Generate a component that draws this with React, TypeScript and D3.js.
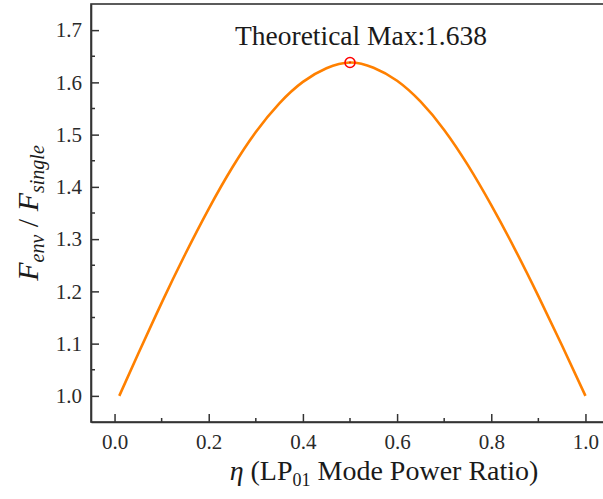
import React, { useEffect, useRef } from 'react'
import * as d3 from 'd3'

// eta (LP01 mode power ratio)
const eta = [0.01, 0.05, 0.1, 0.15, 0.2, 0.25, 0.3, 0.35, 0.4, 0.45, 0.5, 0.55, 0.6, 0.65, 0.7, 0.75, 0.8, 0.85, 0.9, 0.95, 1.0]
const ratio = [1.0, 1.08, 1.178, 1.271, 1.358, 1.437, 1.505, 1.56, 1.601, 1.627, 1.638, 1.628, 1.603, 1.563, 1.509, 1.442, 1.365, 1.281, 1.191, 1.097, 1.0]

const peakEta = 0.5
const peakValue = 1.638

const xTicks = [0.0, 0.2, 0.4, 0.6, 0.8, 1.0]
const yTicks = [1.0, 1.1, 1.2, 1.3, 1.4, 1.5, 1.6, 1.7]

const W = 603
const H = 499
const left = 91
const top = 4
const bottom = 422
const right = 609

const FONT = '"Liberation Serif", "Times New Roman", serif'

export default function App() {
  const svgRef = useRef<SVGSVGElement>(null)

  useEffect(() => {
    const svg = d3.select(svgRef.current)
    svg.selectAll('*').remove()

    const x = d3.scaleLinear().domain([-0.05, 1.05]).range([left, right])
    const y = d3.scaleLinear().domain([0.95, 1.75]).range([bottom, top])

    // frame
    svg.append('rect')
      .attr('x', left).attr('y', top)
      .attr('width', right - left).attr('height', bottom - top)
      .attr('fill', 'none').attr('stroke', '#333').attr('stroke-width', 1.6)

    // minor ticks
    const xMinor = d3.range(0.1, 1.0, 0.2)
    svg.append('g').selectAll('line').data(xMinor).join('line')
      .attr('x1', d => x(d)).attr('x2', d => x(d))
      .attr('y1', bottom).attr('y2', bottom - 4)
      .attr('stroke', '#333').attr('stroke-width', 1.5)
    const yMinor = d3.range(1.05, 1.75, 0.1)
    svg.append('g').selectAll('line').data(yMinor).join('line')
      .attr('x1', left).attr('x2', left + 4)
      .attr('y1', d => y(d)).attr('y2', d => y(d))
      .attr('stroke', '#333').attr('stroke-width', 1.5)

    const xAxis = d3.axisBottom(x).tickValues(xTicks).tickFormat(d3.format('.1f'))
      .tickSizeInner(-8).tickSizeOuter(0).tickPadding(12)
    const gx = svg.append('g').attr('transform', `translate(0,${bottom})`).call(xAxis)
    gx.select('.domain').attr('stroke', '#333').attr('stroke-width', 1.6)
    gx.selectAll('.tick line').attr('stroke', '#333').attr('stroke-width', 1.5)
    gx.selectAll('.tick text').attr('font-family', FONT).attr('font-size', 21).attr('fill', '#2a2a2a')

    const yAxis = d3.axisLeft(y).tickValues(yTicks).tickFormat(d3.format('.1f'))
      .tickSizeInner(-8).tickSizeOuter(0).tickPadding(9)
    const gy = svg.append('g').attr('transform', `translate(${left},0)`).call(yAxis)
    gy.select('.domain').attr('stroke', '#333').attr('stroke-width', 1.6)
    gy.selectAll('.tick line').attr('stroke', '#333').attr('stroke-width', 1.5)
    gy.selectAll('.tick text').attr('font-family', FONT).attr('font-size', 21).attr('fill', '#2a2a2a')

    // curve
    const line = d3.line<number>()
      .x((d, i) => x(eta[i]))
      .y(d => y(d))
      .curve(d3.curveNatural)
    svg.append('path')
      .datum(ratio)
      .attr('d', line)
      .attr('fill', 'none')
      .attr('stroke', '#FF8000')
      .attr('stroke-width', 2.6)

    // peak marker
    svg.append('circle')
      .attr('cx', x(peakEta)).attr('cy', y(peakValue)).attr('r', 5)
      .attr('fill', 'none').attr('stroke', '#FF0000').attr('stroke-width', 1.5)
    svg.append('circle')
      .attr('cx', x(peakEta)).attr('cy', y(peakValue)).attr('r', 0.9)
      .attr('fill', '#FF0000')

    svg.append('text')
      .attr('x', 361).attr('y', 45)
      .attr('text-anchor', 'middle')
      .attr('font-family', FONT).attr('font-size', 27.5).attr('fill', '#1a1a1a')
      .text(`Theoretical Max:${peakValue.toFixed(3)}`)

    // x label
    const xl = svg.append('text')
      .attr('x', 384).attr('y', 480)
      .attr('text-anchor', 'middle')
      .attr('font-family', FONT).attr('font-size', 28).attr('fill', '#1a1a1a')
    xl.append('tspan').attr('font-style', 'italic').text('η')
    xl.append('tspan').text(' (LP')
    xl.append('tspan').attr('font-size', 18).attr('dy', 6).text('01')
    xl.append('tspan').attr('dy', -6).text(' Mode Power Ratio)')

    // y label
    const yl = svg.append('text')
      .attr('transform', `translate(38,${(top + bottom) / 2}) rotate(-90)`)
      .attr('text-anchor', 'middle')
      .attr('font-family', FONT).attr('font-size', 30).attr('fill', '#1a1a1a')
    yl.append('tspan').attr('font-style', 'italic').text('F')
    yl.append('tspan').attr('font-style', 'italic').attr('font-size', 20).attr('dy', 6).text('env')
    yl.append('tspan').attr('dy', -6).text(' / ')
    yl.append('tspan').attr('font-style', 'italic').text('F')
    yl.append('tspan').attr('font-style', 'italic').attr('font-size', 20).attr('dy', 6).text('single')
  }, [])

  return (
    <svg
      ref={svgRef}
      width={W}
      height={H}
      style={{ position: 'absolute', left: 0, top: 0, background: '#fff' }}
    />
  )
}
